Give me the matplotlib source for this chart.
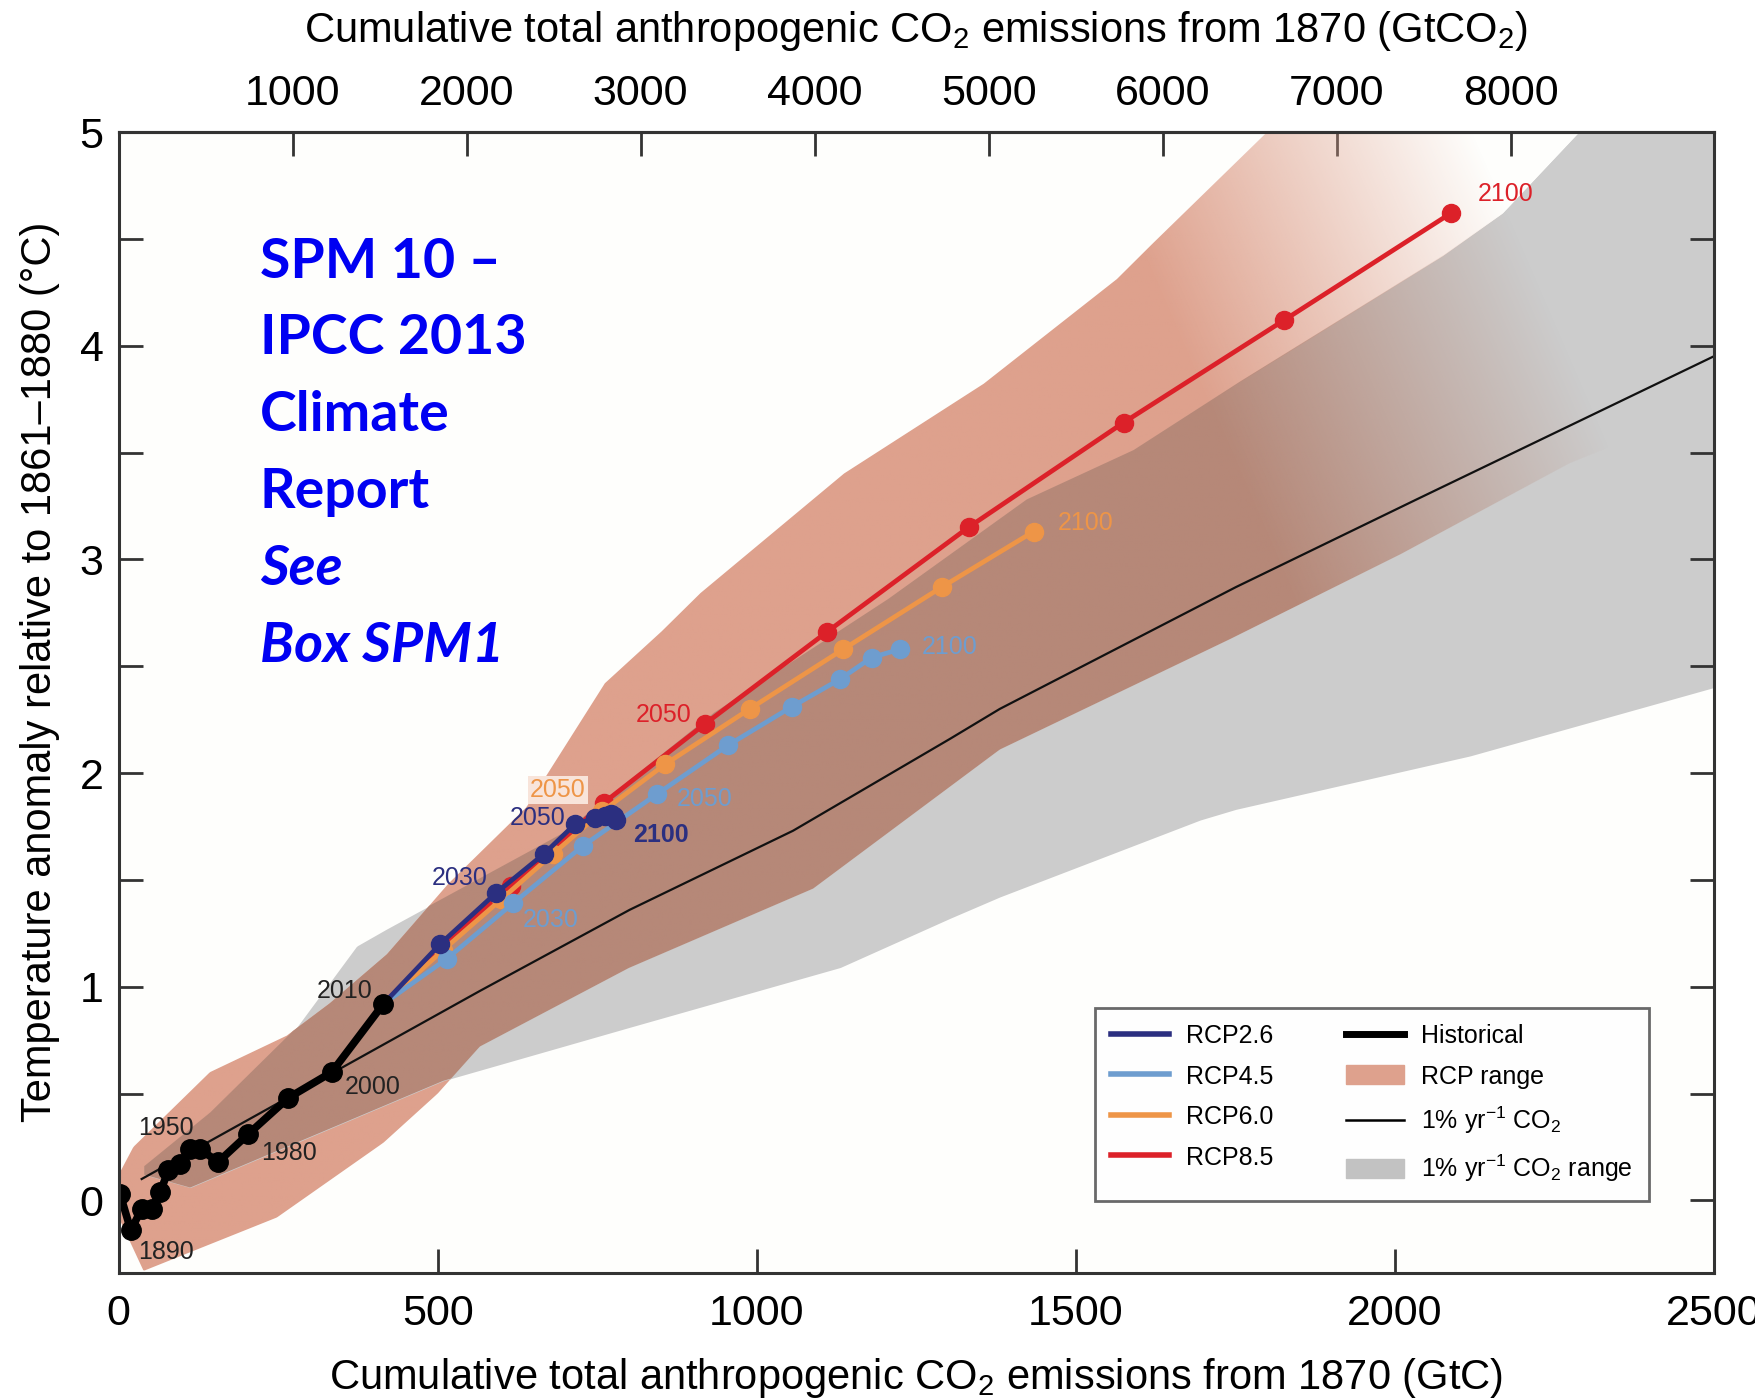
import numpy as np
import matplotlib
matplotlib.use('Agg')
import matplotlib.pyplot as plt
from matplotlib.lines import Line2D
from matplotlib.patches import Patch, PathPatch
from matplotlib.path import Path

plt.rcParams['font.family'] = ['Liberation Sans', 'DejaVu Sans']
plt.rcParams['mathtext.fontset'] = 'custom'
plt.rcParams['mathtext.rm'] = 'Liberation Sans'

# ---- data (GtC, degC) ----
hist_x = [2, 19, 36, 52, 65, 78, 96, 112, 127, 156, 203, 266, 334, 415]
hist_y = [0.03, -0.14, -0.04, -0.04, 0.04, 0.14, 0.17, 0.24, 0.24, 0.18, 0.31, 0.48, 0.60, 0.92]

# first value is the 2010 start, then 2020..2100 decadal
rcp26_x = [415, 504, 592, 666, 715, 747, 762, 771, 776, 779]
rcp26_y = [0.92, 1.20, 1.44, 1.62, 1.76, 1.79, 1.80, 1.81, 1.80, 1.78]
rcp45_x = [415, 514, 618, 728, 843, 955, 1055, 1131, 1180, 1225]
rcp45_y = [0.92, 1.13, 1.39, 1.66, 1.90, 2.13, 2.31, 2.44, 2.54, 2.58]
rcp60_x = [415, 508, 600, 680, 758, 856, 989, 1136, 1290, 1434]
rcp60_y = [0.92, 1.17, 1.41, 1.62, 1.82, 2.04, 2.30, 2.58, 2.87, 3.13]
rcp85_x = [415, 505, 615, 760, 919, 1110, 1332, 1575, 1827, 2088]
rcp85_y = [0.92, 1.19, 1.47, 1.86, 2.23, 2.66, 3.15, 3.64, 4.12, 4.62]

pct_x = [36, 566, 801, 1057, 1303, 1381, 1751, 2034, 2500]
pct_y = [0.10, 0.98, 1.36, 1.73, 2.16, 2.30, 2.87, 3.28, 3.95]

# RCP range
rng_hi_x = [0, 23, 143, 263, 330, 420, 516, 639, 762, 850, 911, 1136, 1355, 1564, 1611, 1800, 2100, 2430]
rng_hi_y = [0.12, 0.25, 0.60, 0.77, 0.92, 1.15, 1.48, 1.84, 2.42, 2.66, 2.84, 3.40, 3.82, 4.31, 4.45, 5.0, 5.8, 6.5]
rng_lo_x = [0, 39, 248, 415, 500, 566, 801, 1089, 1381, 1751, 2013, 2274, 2430]
rng_lo_y = [-0.08, -0.33, -0.08, 0.27, 0.50, 0.72, 1.09, 1.46, 2.11, 2.64, 3.03, 3.45, 3.64]

# 1% per year CO2 range
co2_hi_x = [40, 143, 279, 373, 420, 697, 932, 1204, 1423, 1590, 1751, 1908, 2075, 2169, 2289, 2500]
co2_hi_y = [0.16, 0.41, 0.81, 1.19, 1.27, 1.72, 2.28, 2.81, 3.28, 3.51, 3.82, 4.11, 4.42, 4.62, 5.0, 5.5]
co2_lo_x = [40, 112, 279, 509, 801, 1131, 1303, 1381, 1695, 1751, 2118, 2500]
co2_lo_y = [0.12, 0.06, 0.27, 0.56, 0.81, 1.09, 1.32, 1.42, 1.78, 1.83, 2.08, 2.40]

c26, c45, c60, c85 = '#2b2f80', '#6e9dcf', '#ee9547', '#dc2129'
salmon, brown, grey = '#dea18d', '#b68878', '#cccccc'

fig = plt.figure(figsize=(17.56, 14.0), dpi=100)
ax = fig.add_axes([0.0676, 0.0907, 0.9083, 0.815])
ax.set_facecolor('#fefefc')

# grey range
gx = np.linspace(40, 2500, 1200)
g_lo = np.interp(gx, co2_lo_x, co2_lo_y)
g_hi = np.interp(gx, co2_hi_x, co2_hi_y)
ax.fill_between(gx, g_lo, g_hi, color=grey, lw=0, zorder=1)

# fading colour image for the RCP range
nx, ny = 800, 500
X, Y = np.meshgrid(np.linspace(0, 2500, nx), np.linspace(-0.34, 5, ny))
fade = np.clip((2850 - (X + 145 * Y)) / 600.0, 0, 1)


def fade_img(col):
    rgb = np.array(matplotlib.colors.to_rgb(col))
    img = np.zeros((ny, nx, 4))
    img[..., :3] = rgb
    img[..., 3] = fade
    return img


sx = np.linspace(0, 2430, 1200)
s_lo = np.interp(sx, rng_lo_x, rng_lo_y)
s_hi = np.interp(sx, rng_hi_x, rng_hi_y)
verts = np.vstack([np.column_stack([sx, s_hi]), np.column_stack([sx[::-1], s_lo[::-1]])])
spatch = PathPatch(Path(verts), transform=ax.transData, fc='none', ec='none')
ax.add_patch(spatch)
im1 = ax.imshow(fade_img(salmon), extent=[0, 2500, -0.34, 5], origin='lower',
                aspect='auto', zorder=2, interpolation='bilinear')
im1.set_clip_path(spatch)

# overlap of both ranges
ox = np.linspace(40, 2430, 1200)
o_lo = np.maximum(np.interp(ox, rng_lo_x, rng_lo_y), np.interp(ox, co2_lo_x, co2_lo_y))
o_hi = np.minimum(np.interp(ox, rng_hi_x, rng_hi_y), np.interp(ox, co2_hi_x, co2_hi_y))
o_hi = np.maximum(o_hi, o_lo)
ax.fill_between(ox, o_lo, o_hi, color=grey, lw=0, zorder=3)
overts = np.vstack([np.column_stack([ox, o_hi]), np.column_stack([ox[::-1], o_lo[::-1]])])
opatch = PathPatch(Path(overts), transform=ax.transData, fc='none', ec='none')
ax.add_patch(opatch)
im2 = ax.imshow(fade_img(brown), extent=[0, 2500, -0.34, 5], origin='lower',
                aspect='auto', zorder=4, interpolation='bilinear')
im2.set_clip_path(opatch)

# 1% yr-1 CO2 line
ax.plot(pct_x, pct_y, color='#111111', lw=1.6, zorder=5)

# RCP lines
for xs, ys, c in [(rcp85_x, rcp85_y, c85), (rcp60_x, rcp60_y, c60),
                  (rcp45_x, rcp45_y, c45), (rcp26_x, rcp26_y, c26)]:
    ax.plot(xs, ys, color=c, lw=3.4, marker='o', ms=13, markevery=list(range(1, len(xs))),
            mec=c, zorder=6)

ax.plot(hist_x, hist_y, color='black', lw=5.5, marker='o', ms=14, zorder=7)

# year labels
lab = dict(fontsize=18, va='center', zorder=8)
ax.text(31, 0.34, '1950', color='#222222', **lab)
ax.text(30, -0.24, '1890', color='#222222', **lab)
ax.text(224, 0.22, '1980', color='#222222', **lab)
ax.text(355, 0.53, '2000', color='#222222', **lab)
ax.text(310, 0.98, '2010', color='#222222', **lab)
ax.text(491, 1.51, '2030', color=c26, **lab)
ax.text(613, 1.79, '2050', color=c26, **lab)
ax.text(806, 1.71, '2100', color=c26, fontweight='bold', **lab)
ax.text(634, 1.31, '2030', color=c45, **lab)
ax.text(875, 1.88, '2050', color=c45, **lab)
ax.text(1259, 2.59, '2100', color=c45, **lab)
ax.text(645, 1.92, '2050', color=c60,
        bbox=dict(facecolor='#f8e4da', edgecolor='none', pad=1.5), **lab)
ax.text(1472, 3.17, '2100', color=c60, **lab)
ax.text(810, 2.27, '2050', color=c85, **lab)
ax.text(2130, 4.71, '2100', color=c85, **lab)

# blue overlay note
note = [('SPM 10 \u2013', 'normal'), ('IPCC 2013', 'normal'), ('Climate', 'normal'),
        ('Report', 'normal'), ('See', 'italic'), ('Box SPM1', 'italic')]
note_y = [4.39, 4.035, 3.675, 3.315, 2.955, 2.595]
for (t, st), yy in zip(note, note_y):
    ax.text(221, yy, t, color='#0000f2', fontsize=40, fontweight='bold', style=st,
            family=['Lato', 'DejaVu Sans'], va='center', zorder=9)

# axes and ticks
ax.set_xlim(0, 2500)
ax.set_ylim(-0.34, 5)
ax.set_xticks([0, 500, 1000, 1500, 2000, 2500])
ax.set_yticks([0, 1, 2, 3, 4, 5])
ax.set_yticks([0.5, 1.5, 2.5, 3.5, 4.5], minor=True)
ax.tick_params(which='both', direction='in', length=17, width=2, color='#333333',
               right=True, labelsize=31)
ax.tick_params(axis='x', pad=15)
ax.tick_params(axis='y', pad=11)
for sp in ax.spines.values():
    sp.set_linewidth(2.2)
    sp.set_color('#333333')
    sp.set_zorder(10)

ax.set_xlabel('Cumulative total anthropogenic CO$_2$ emissions from 1870 (GtC)', fontsize=30, labelpad=16)
ax.set_ylabel('Temperature anomaly relative to 1861\u20131880 (\u00b0C)', fontsize=30)
ax.yaxis.set_label_coords(-0.037, 0.527)

top = ax.secondary_xaxis('top', functions=(lambda v: v * 3.667, lambda v: v / 3.667))
top.set_xticks([1000, 2000, 3000, 4000, 5000, 6000, 7000, 8000, 9000])
top.set_xticklabels(['1000', '2000', '3000', '4000', '5000', '6000', '7000', '8000', ''])
top.tick_params(direction='in', length=17, width=2, color='#333333', labelsize=31, pad=13)
top.spines['top'].set_linewidth(2.2)
top.set_xlabel('Cumulative total anthropogenic CO$_2$ emissions from 1870 (GtCO$_2$)', fontsize=30, labelpad=23)

# legend
handles = [Line2D([], [], color=c26, lw=4), Line2D([], [], color=c45, lw=4),
           Line2D([], [], color=c60, lw=4), Line2D([], [], color=c85, lw=4),
           Line2D([], [], color='black', lw=5), Patch(color=salmon),
           Line2D([], [], color='black', lw=1.8), Patch(color='#c2c2c2')]
labels = ['RCP2.6', 'RCP4.5', 'RCP6.0', 'RCP8.5', 'Historical', 'RCP range',
          '1% yr$^{-1}$ CO$_2$', '1% yr$^{-1}$ CO$_2$ range']
leg = ax.legend(handles, labels, ncol=2, loc='lower right', bbox_to_anchor=(0.9596, 0.0635),
                borderaxespad=0, fontsize=18, frameon=True, fancybox=False, edgecolor='#444444',
                handlelength=2.3, handleheight=0.8, columnspacing=2.9, labelspacing=0.66,
                borderpad=0.65, handletextpad=0.7)
leg.get_frame().set_linewidth(2)
leg.set_zorder(11)

fig.savefig('out.png', dpi=100, facecolor='white')
